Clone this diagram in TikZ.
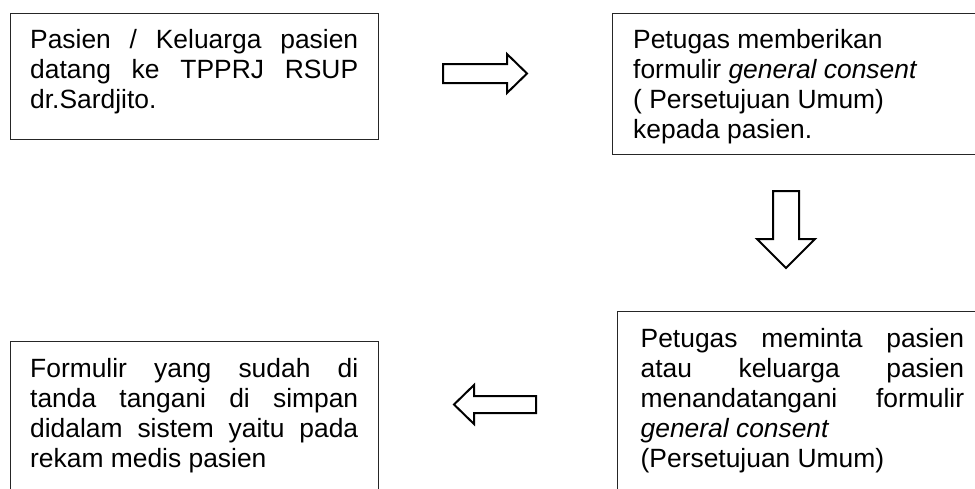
\documentclass[tikz,border=0pt]{standalone}
\usepackage{fontspec}
\setmainfont{Liberation Sans}
\begin{document}
\begin{tikzpicture}[x=1pt,y=-1pt,
  box/.style={draw=black!85, line width=1.1pt, rectangle, inner sep=0pt, anchor=north west},
  txt/.style={inner sep=0pt, anchor=base west, font=\fontsize{26.4pt}{30pt}\selectfont},
  blockarrow/.style={draw=black, line width=2pt, fill=white, line join=miter}]
\clip (0,0) rectangle (975,488);
\fill[white] (0,0) rectangle (975,488);
% boxes
\node[box, minimum width=368pt, minimum height=126pt] (b1) at (10,13) {};
\node[box, minimum width=378pt, minimum height=141pt] (b2) at (612,13) {};
\node[box, minimum width=373pt, minimum height=200pt] (b3) at (617,311) {};
\node[box, minimum width=368pt, minimum height=170pt] (b4) at (10,341) {};
% texts
\node[txt] (t1) at (30,48) {\parbox[t]{328pt}{\fontsize{26.4pt}{30pt}\selectfont
  \makebox[328pt][s]{Pasien / Keluarga pasien}\\
  \makebox[328pt][s]{datang ke TPPRJ RSUP}\\
  dr.Sardjito.}};
\node[txt] (t2) at (633,48) {\parbox[t]{330pt}{\fontsize{26.4pt}{30pt}\selectfont
  Petugas memberikan\\
  formulir \textit{general consent}\\
  ( Persetujuan Umum)\\
  kepada pasien.}};
\node[txt] (t3) at (640.5,347) {\parbox[t]{323.5pt}{\fontsize{26.4pt}{30pt}\selectfont
  \makebox[323.5pt][s]{Petugas meminta pasien}\\
  \makebox[323.5pt][s]{atau keluarga pasien}\\
  \makebox[323.5pt][s]{menandatangani formulir}\\
  \textit{general consent}\\
  (Persetujuan Umum)}};
\node[txt] (t4) at (30,377) {\parbox[t]{328pt}{\fontsize{26.4pt}{30pt}\selectfont
  \makebox[328pt][s]{Formulir yang sudah di}\\
  \makebox[328pt][s]{tanda tangani di simpan}\\
  \makebox[328pt][s]{didalam sistem yaitu pada}\\
  rekam medis pasien}};
% block arrows
\coordinate (ar) at (443,73.5);
\draw[blockarrow] (ar) ++(0,-9.5) -- ++(64,0) -- ++(0,-10) -- ++(20,19.5)
  -- ++(-20,19.5) -- ++(0,-10) -- ++(-64,0) -- cycle;
\coordinate (ad) at (786,191);
\draw[blockarrow] (ad) ++(-13,0) -- ++(0,48) -- ++(-16,0) -- ++(29,29)
  -- ++(29,-29) -- ++(-16,0) -- ++(0,-48) -- cycle;
\coordinate (al) at (536,404.5);
\draw[blockarrow] (al) ++(0,-8.5) -- ++(-62,0) -- ++(0,-11) -- ++(-20,19.5)
  -- ++(20,19.5) -- ++(0,-11) -- ++(62,0) -- cycle;
\end{tikzpicture}
\end{document}
